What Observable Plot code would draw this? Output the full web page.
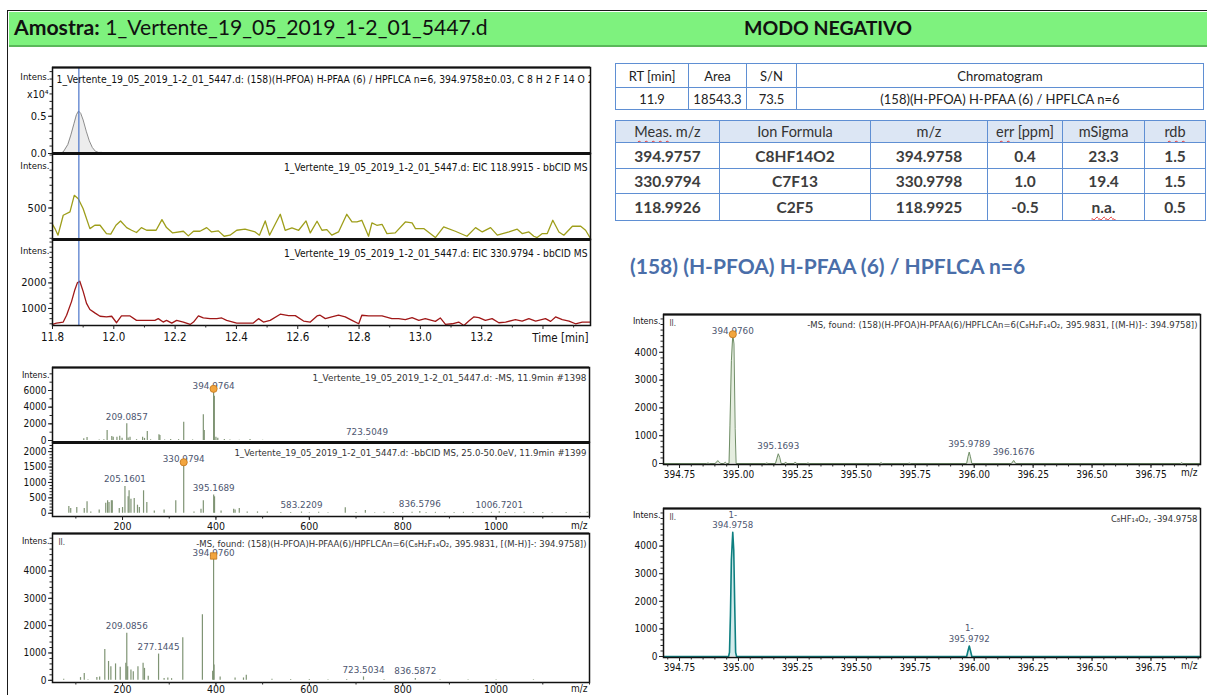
<!DOCTYPE html>
<html><head><meta charset="utf-8">
<script src="https://cdn.jsdelivr.net/npm/d3@7"></script>
<script src="https://cdn.jsdelivr.net/npm/@observablehq/plot@0.6"></script>
<style>
html,body{margin:0;padding:0;background:#fff;}
#page{position:relative;width:1207px;height:695px;overflow:hidden;background:#fff;font-family:Lato,'Open Sans',sans-serif;}
#border{position:absolute;left:7px;top:10px;width:1220px;height:720px;border-left:1.5px solid #1a1a1a;border-top:1.5px solid #1a1a1a;}
#header{position:absolute;left:8.5px;top:11.5px;width:1210px;height:33px;background:#7ef27e;border-bottom:2px solid #5ab85a;}
#amostra{position:absolute;left:14px;top:14px;font-size:21.2px;color:#111;white-space:nowrap;}
#modo{position:absolute;left:828px;top:16px;transform:translateX(-50%);font-weight:bold;font-size:19.5px;color:#111;white-space:nowrap;}
table{position:absolute;border-collapse:collapse;font-family:Lato,'Open Sans',sans-serif;table-layout:fixed;}
td{border:1.5px solid #5f8fd3;text-align:center;padding:0;white-space:nowrap;overflow:hidden;}
#t1 td{font-size:13px;color:#222;}
#t2 td{font-size:15.5px;font-weight:bold;color:#3d3d3d;}
#t2 tr.h td{font-size:14.5px;font-weight:normal;background:#dce6f4;color:#333;}
.wavy{text-decoration:underline wavy #e03030;text-decoration-thickness:1px;text-underline-offset:3px;}
#title{position:absolute;left:630px;top:253px;font-size:21px;font-weight:bold;color:#4a6ea9;white-space:nowrap;}
</style></head><body>
<div id="page">
<div id="border"></div>
<div id="header"></div>
<div id="amostra"><b>Amostra:</b> 1_Vertente_19_05_2019_1-2_01_5447.d</div>
<div id="modo">MODO NEGATIVO</div>
<div id="title">(158) (H-PFOA) H-PFAA (6) / HPFLCA n=6</div>
</div>
<script>
// ---------------- DATA ----------------
const sampleName = "1_Vertente_19_05_2019_1-2_01_5447.d";
const markerRT = 11.886;

// EIC 394.9758 (x10^4)
const eic394 = [[11.80,0],[11.82,0],[11.835,0.02],[11.85,0.12],[11.86,0.25],[11.87,0.40],[11.878,0.52],[11.885,0.57],[11.892,0.54],[11.90,0.45],[11.91,0.30],[11.92,0.17],[11.93,0.08],[11.94,0.03],[11.95,0.015],[11.96,0.015],[11.97,0.0],[13.555,0]];
// EIC 118.9915
const eic118 = [[11.800,285],[11.808,228],[11.818,141],[11.835,404],[11.857,448],[11.871,667],[11.884,623],[11.900,491],[11.922,228],[11.938,272],[11.955,272],[11.976,162],[11.990,154],[12.007,272],[12.022,329],[12.042,241],[12.058,206],[12.074,176],[12.090,241],[12.107,206],[12.138,206],[12.157,347],[12.172,241],[12.192,171],[12.227,193],[12.243,132],[12.260,193],[12.281,193],[12.303,241],[12.319,184],[12.341,198],[12.360,127],[12.379,141],[12.401,206],[12.428,220],[12.461,184],[12.475,141],[12.494,329],[12.508,141],[12.543,417],[12.559,206],[12.581,237],[12.603,206],[12.627,329],[12.641,171],[12.663,325],[12.679,206],[12.695,215],[12.711,141],[12.733,184],[12.760,417],[12.777,316],[12.793,316],[12.809,338],[12.831,127],[12.842,303],[12.858,272],[12.875,285],[12.891,162],[12.918,171],[12.951,316],[12.973,303],[12.984,228],[13.011,228],[13.049,110],[13.076,250],[13.114,193],[13.152,127],[13.180,241],[13.202,184],[13.229,241],[13.251,141],[13.289,184],[13.316,220],[13.332,162],[13.354,184],[13.370,127],[13.381,110],[13.398,162],[13.414,162],[13.432,338],[13.452,184],[13.468,141],[13.496,259],[13.523,259],[13.539,206],[13.555,97]];
// EIC 330.9794
const eic330 = [[11.800,375],[11.813,428],[11.835,468],[11.846,735],[11.862,1268],[11.873,1735],[11.881,2001],[11.889,2068],[11.900,1668],[11.911,1201],[11.922,961],[11.938,828],[11.955,695],[11.976,668],[11.993,695],[12.009,441],[12.025,708],[12.053,708],[12.074,535],[12.107,535],[12.134,535],[12.145,601],[12.161,468],[12.172,535],[12.189,428],[12.205,535],[12.227,468],[12.249,375],[12.260,468],[12.276,708],[12.292,628],[12.314,601],[12.336,601],[12.352,628],[12.368,535],[12.401,428],[12.434,428],[12.455,428],[12.472,601],[12.488,468],[12.510,535],[12.543,775],[12.570,721],[12.592,721],[12.619,508],[12.641,468],[12.663,708],[12.673,735],[12.690,601],[12.711,668],[12.733,735],[12.755,668],[12.777,535],[12.799,401],[12.809,735],[12.831,708],[12.875,708],[12.907,601],[12.929,601],[12.951,561],[12.973,641],[12.995,535],[13.016,601],[13.049,495],[13.065,628],[13.082,375],[13.104,401],[13.125,468],[13.142,335],[13.158,508],[13.174,668],[13.191,641],[13.212,535],[13.234,601],[13.256,441],[13.278,468],[13.310,561],[13.332,508],[13.354,601],[13.376,508],[13.408,601],[13.425,495],[13.441,668],[13.463,561],[13.485,508],[13.506,401],[13.528,468],[13.555,468]];
const timeTicks = [11.8,12.0,12.2,12.4,12.6,12.8,13.0,13.2];

// -MS spectrum, 11.9 min #1398
const msSticks = [[117,200],[124,360],[150,60],[160,80],[167,1200],[177,480],[180,400],[188,400],[194,520],[199,280],[209.0857,2000],[212,300],[216,400],[230,100],[243,400],[247,250],[253,1080],[260,80],[278,680],[280,600],[290,60],[303,120],[320,100],[331,2200],[350,60],[373,3080],[375,1200],[394.9764,6200],[396.6,5300],[400,400],[404,280],[418,120],[430,60],[450,40],[473,120],[500,30],[723.5049,100]];
const msLabels = [[394.9764,6200,"394.9764"],[209.0857,2000,"209.0857"],[723.5049,100,"723.5049"]];
// bbCID MS spectrum, 25.0-50.0 eV, #1399
const cidSticks = [[85,218],[89,153],[102,186],[118,153],[124,371],[132,44],[150,110],[164,328],[168,404],[171,350],[176,404],[178,404],[193,153],[200,186],[205.1601,872],[212,534],[214,730],[218,458],[225,480],[232,262],[236,186],[245,730],[252,350],[268,77],[289,110],[314,404],[330.9794,1656],[353,44],[368,132],[373,404],[395.1689,589],[397,534],[411,77],[438,132],[441,110],[450,153],[467,44],[489,44],[510,44],[539,22],[560,25],[583.2209,40],[600,20],[620,30],[640,20],[677,183],[700,25],[720,90],[740,20],[760,30],[780,25],[800,20],[820,30],[836.5796,60],[850,25],[870,30],[890,20],[910,25],[930,30],[950,25],[970,20],[990,30],[1006.7201,50],[1020,25],[1040,20],[1060,30],[1080,20],[1100,25],[1120,20],[1150,25],[1180,20],[1195,30]];
const cidLabels = [[330.9794,1656,"330.9794"],[205.1601,872,"205.1601"],[395.1689,589,"395.1689"],[583.2209,40,"583.2209"],[836.5796,60,"836.5796"],[1006.7201,50,"1006.7201"]];
// -MS found spectrum (bottom left)
const foundSticks = [[74,37],[110,100],[118,250],[126,25],[145,100],[151,125],[162,1125],[170,690],[175,500],[185,600],[195,475],[207,625],[209.0856,1725],[211,500],[218,375],[223,312],[233,500],[244,625],[247,437],[255,150],[277.1445,960],[289,62],[297,87],[305,60],[329,1560],[371,2400],[393,330],[394.976,4550],[396,560],[409,125],[441,87],[459,87],[465,187],[520,40],[560,30],[600,30],[640,25],[680,30],[716,125],[760,30],[827,62],[880,25],[940,20],[1000,20],[1080,20]];
const foundLabels = [[394.976,4550,"394.9760"],[209.0856,1725,"209.0856"],[277.1445,960,"277.1445"],[716,125,"723.5034"],[827,62,"836.5872"]];
const mzTicks = [200,400,600,800,1000];

// zoomed measured profile
const measProfile = [[394.684,0],[394.865,0],[394.871,15],[394.877,0],[394.902,0],[394.908,70],[394.913,100],[394.918,60],[394.924,0],[394.938,0],[394.944,45],[394.95,0],[394.960,0],[394.964,1380],[394.970,3700],[394.976,4650],[394.981,4300],[394.986,1250],[394.990,0],[395.115,0],[395.12,20],[395.125,0],[395.157,0],[395.163,180],[395.169,350],[395.175,220],[395.181,0],[395.196,0],[395.2,55],[395.205,0],[395.236,0],[395.241,55],[395.246,0],[395.29,0],[395.295,20],[395.3,0],[395.6,0],[395.605,30],[395.61,0],[395.72,0],[395.725,15],[395.73,0],[395.968,0],[395.974,250],[395.979,410],[395.984,240],[395.990,0],[396.158,0],[396.1676,110],[396.176,0],[396.875,0],[396.88,30],[396.885,0],[396.96,0]];
const measLabels = [[394.976,4650,"394.9760"],[395.169,350,"395.1693"],[395.979,410,"395.9789"],[396.1676,110,"396.1676"]];
// simulated isotope pattern C8HF14O2
const simProfile = [[394.684,0],[394.958,0],[394.962,150],[394.966,1500],[394.970,3500],[394.9758,4500],[394.980,3850],[394.984,1900],[394.988,150],[394.992,0],[395.968,0],[395.973,180],[395.9792,380],[395.985,180],[395.990,0],[396.96,0]];
const simLabels = [[394.9758,4500,"1-\n394.9758"],[395.9792,380,"1-\n395.9792"]];
const zoomTicks = [394.75,395.00,395.25,395.50,395.75,396.00,396.25,396.50,396.75];

// tables
const rtHeaders = ["RT [min]","Area","S/N","Chromatogram"];
const rtValues = ["11.9","18543.3","73.5","(158)(H-PFOA) H-PFAA (6) / HPFLCA n=6"];
const ionHeaders = ["Meas. m/z","Ion Formula","m/z","err [ppm]","mSigma","rdb"];
const measMz = ["394.9757","330.9794","118.9926"];
const ionFormula = ["C8HF14O2","C7F13","C2F5"];
const theoMz = ["394.9758","330.9798","118.9925"];
const errPpm = ["0.4","1.0","-0.5"];
const mSigma = ["23.3","19.4","n.a."];
const rdb = ["1.5","1.5","0.5"];

// ---------------- DRAWING ----------------
const NARROW = "'Liberation Sans Narrow','Arial Narrow','DejaVu Sans Condensed','Liberation Sans',sans-serif";
const SMALL = "'DejaVu Sans',Verdana,sans-serif";
const page = document.getElementById("page");
const xy = a => a.map(([x,y,t]) => ({x,y,t}));
function place(el, left, top){ el.style.position="absolute"; el.style.left=left+"px"; el.style.top=top+"px"; page.appendChild(el); }
function panel(f, xDomain, yDomain, marks){
  const p = Plot.plot({
    width: f.x1 - f.x0, height: f.y1 - f.y0, margin: 0,
    x: {domain: xDomain, axis: null}, y: {domain: yDomain, axis: null},
    style: {overflow:"visible", background:"transparent", fontFamily: NARROW, fontSize:"11px", color:"#111"},
    marks
  });
  place(p, f.x0, f.y0);
}
const str = d => String(d);
const yAxes = (major, minor, fmt, size=11) => [
  Plot.axisY(minor, {anchor:"left", label:null, tickSize:2.5, tickFormat:()=>"", stroke:"#222"}),
  Plot.axisY(major, {anchor:"left", label:null, tickSize:4, tickPadding:2, tickFormat: fmt || str, fontSize:size, stroke:"#222"})
];
const intens = (dy=7, fs=9.5) => Plot.text(["Intens."], {frameAnchor:"top-left", text:d=>d, textAnchor:"end", dx:-3, dy, fontSize:fs});
const frame = () => Plot.frame({stroke:"#111", strokeWidth:1.5});
const topThick = (yd, w=3) => Plot.ruleY([yd[1]], {stroke:"#111", strokeWidth:w});

// chromatograms
const cx = [11.8, 13.555];
const blue = "#4a74c9";
{
  const yd = [0, 1.155];
  panel({x0:52,x1:590,y0:67,y1:153}, cx, yd, [
    Plot.areaY(xy(eic394), {x:"x", y:"y", fill:"#ededed"}),
    Plot.lineY(xy(eic394), {x:"x", y:"y", stroke:"#8c8c8c", strokeWidth:1}),
    Plot.ruleX([markerRT], {stroke:blue, strokeWidth:1.2}),
    frame(), topThick(yd, 2),
    ...yAxes([0,0.5], d3.range(0,1.15,0.1), d3.format(".1f")),
    intens(6),
    Plot.text(["x10⁴"], {frameAnchor:"top-left", text:d=>d, textAnchor:"end", dx:-4, dy:23, fontSize:10.5}),
    Plot.text([sampleName + ": (158)(H-PFOA) H-PFAA (6) / HPFLCA n=6, 394.9758±0.03, C 8 H 2 F 14 O 2"], {frameAnchor:"top-left", text:d=>d, textAnchor:"start", dx:4, dy:8, fontSize:10.3, clip:true})
  ]);
}
{
  const yd = [84, 1220];
  panel({x0:52,x1:590,y0:153,y1:239}, cx, yd, [
    Plot.lineY(xy(eic118), {x:"x", y:"y", stroke:"#9e9e1a", strokeWidth:1.3}),
    Plot.ruleX([markerRT], {stroke:blue, strokeWidth:1.2}),
    frame(), topThick(yd),
    ...yAxes([500], d3.range(100,1201,100)),
    intens(9),
    Plot.text([sampleName + ": EIC 118.9915 - bbCID MS"], {frameAnchor:"top-right", text:d=>d, textAnchor:"end", dx:-3, dy:10, fontSize:10.2})
  ]);
}
{
  const yd = [333, 3700];
  panel({x0:52,x1:590,y0:239,y1:325}, cx, yd, [
    Plot.lineY(xy(eic330), {x:"x", y:"y", stroke:"#a01818", strokeWidth:1.3}),
    Plot.ruleX([markerRT], {stroke:blue, strokeWidth:1.2}),
    frame(), topThick(yd),
    ...yAxes([1000,2000], d3.range(400,3601,200)),
    intens(8),
    Plot.text([sampleName + ": EIC 330.9794 - bbCID MS"], {frameAnchor:"top-right", text:d=>d, textAnchor:"end", dx:-3, dy:10, fontSize:10.2}),
    Plot.axisX([...timeTicks, 13.4], {anchor:"bottom", label:null, tickSize:4, tickPadding:3, tickFormat:d=> d>13.3 ? "" : d3.format(".1f")(d), fontSize:11.5, stroke:"#222"}),
    Plot.axisX(d3.range(11.9,13.55,0.2), {anchor:"bottom", label:null, tickSize:2.5, tickFormat:()=>"", stroke:"#222"}),
    Plot.text(["Time [min]"], {frameAnchor:"bottom-right", text:d=>d, textAnchor:"end", dx:-2, dy:16, fontSize:11.5})
  ]);
}

// spectra helpers
const stickCol = "#7f9474";
const labelCol = "#4d5670";
const mzx = [50, 1200];
function sticks(data){ return Plot.ruleX(xy(data), {x:"x", y1:0, y2:"y", stroke:stickCol, strokeWidth:1.2}); }
function peakLabels(data, dy=-7, fs=8.8){ return Plot.text(xy(data), {x:"x", y:"y", text:"t", dy, fill:labelCol, fontFamily:SMALL, fontSize:fs}); }
function marker(data, symbol="circle"){ return Plot.dot(xy(data).slice(0,1), {x:"x", y:"y", r:3.6, symbol, fill:"#f2a53e", stroke:"#c0741a", strokeWidth:0.8}); }
function specHeader(txt, fs=8.8){ return Plot.text([txt], {frameAnchor:"top-right", text:d=>d, textAnchor:"end", dx:-3, dy:7, fontFamily:SMALL, fontSize:fs, fill:"#333"}); }
const mzAxis = (ts=4, tp=2) => [
  Plot.axisX(d3.range(100,1201,100), {anchor:"bottom", label:null, tickSize:2.5, tickFormat:()=>"", stroke:"#222"}),
  Plot.axisX(mzTicks, {anchor:"bottom", label:null, tickSize:ts, tickPadding:tp, tickFormat:str, fontSize:10.5, stroke:"#222"}),
  Plot.text(["m/z"], {frameAnchor:"bottom-right", text:d=>d, textAnchor:"end", dx:-2, dy:ts+tp+6, fontSize:10})
];
const iconII = () => Plot.text(["II."], {frameAnchor:"top-left", text:d=>d, dx:6, dy:6, fontSize:8, fill:"#444"});

{
  const yd = [-180, 8760];
  panel({x0:52,x1:589,y0:367,y1:441.5}, mzx, yd, [
    sticks(msSticks),
    peakLabels(msLabels.slice(1)),
    peakLabels(msLabels.slice(0,1), -3),
    marker(msLabels),
    frame(), topThick(yd, 2),
    ...yAxes([0,2000,4000,6000], d3.range(0,8001,1000), null, 10),
    intens(4, 9),
    specHeader(sampleName + ": -MS, 11.9min #1398", 8.9)
  ]);
}
{
  const yd = [-105, 2297];
  panel({x0:52,x1:589,y0:441.5,y1:515.5}, mzx, yd, [
    sticks(cidSticks),
    peakLabels(cidLabels.slice(1)),
    peakLabels(cidLabels.slice(0,1), -3),
    marker(cidLabels),
    frame(), topThick(yd),
    ...yAxes([0,500,1000,1500,2000], d3.range(0,2201,100), null, 10),
    specHeader(sampleName + ": -bbCID MS, 25.0-50.0eV, 11.9min #1399", 8.6),
    ...mzAxis()
  ]);
}
const foundTitle = "-MS, found: (158)(H-PFOA)H-PFAA(6)/HPFLCAn=6(C₈H₂F₁₄O₂, 395.9831, [(M-H)]-: 394.9758])";
{
  const yd = [-80, 5372];
  panel({x0:52,x1:589,y0:533,y1:682}, mzx, yd, [
    sticks(foundSticks),
    peakLabels(foundLabels.slice(1)),
    peakLabels(foundLabels.slice(0,1), -3),
    marker(foundLabels, "square"),
    frame(), topThick(yd, 2),
    ...yAxes([0,1000,2000,3000,4000], d3.range(0,5301,200), null, 10),
    intens(4, 9),
    iconII(),
    specHeader(foundTitle, 8.5),
    ...mzAxis(3, 0.5)
  ]);
}

// right zoomed spectra
const zx = [394.682, 396.96];
const zoomAxis = () => [
  Plot.axisX(d3.range(394.70,396.96,0.05), {anchor:"bottom", label:null, tickSize:2.5, tickFormat:()=>"", stroke:"#222"}),
  Plot.axisX(zoomTicks, {anchor:"bottom", label:null, tickSize:4, tickPadding:2, tickFormat:d3.format(".2f"), fontSize:10, stroke:"#222"}),
  Plot.text(["m/z"], {frameAnchor:"bottom-right", text:d=>d, textAnchor:"end", dx:-3, dy:11, fontSize:10})
];
{
  const yd = [-36, 5360];
  panel({x0:663,x1:1200,y0:314,y1:464}, zx, yd, [
    Plot.areaY(xy(measProfile), {x:"x", y:"y", fill:"#e5eddf"}),
    Plot.lineY(xy(measProfile), {x:"x", y:"y", stroke:"#6f8d66", strokeWidth:1}),
    peakLabels(measLabels.slice(1), -8),
    peakLabels(measLabels.slice(0,1), -3),
    marker(measLabels),
    frame(), topThick(yd, 2),
    ...yAxes([0,1000,2000,3000,4000], d3.range(0,5301,200), null, 10),
    intens(3, 9),
    iconII(),
    specHeader(foundTitle, 8.5),
    ...zoomAxis()
  ]);
}
{
  const yd = [-36, 5362];
  panel({x0:663,x1:1200,y0:508,y1:657}, zx, yd, [
    Plot.areaY(xy(simProfile), {x:"x", y:"y", fill:"#d3ebeb"}),
    Plot.lineY(xy(simProfile), {x:"x", y:"y", stroke:"#0e7f80", strokeWidth:1.6}),
    Plot.text(xy(simLabels), {x:"x", y:"y", text:"t", lineAnchor:"bottom", dy:-4, lineHeight:1.25, fill:labelCol, fontFamily:SMALL, fontSize:8.6}),
    frame(), topThick(yd, 2),
    ...yAxes([0,1000,2000,3000,4000], d3.range(0,5301,200), null, 10),
    intens(3, 9),
    iconII(),
    specHeader("C₈HF₁₄O₂, -394.9758", 8.5),
    ...zoomAxis()
  ]);
}

// tables
function makeTable(id, left, top, widths, rows, heights, headerClass){
  const t = document.createElement("table");
  t.id = id; t.style.left = left+"px"; t.style.top = top+"px";
  const cg = document.createElement("colgroup");
  widths.forEach(w => { const c = document.createElement("col"); c.style.width = w+"px"; cg.appendChild(c); });
  t.appendChild(cg);
  rows.forEach((r,i) => {
    const tr = document.createElement("tr");
    if (i===0 && headerClass) tr.className = headerClass;
    tr.style.height = heights[i]+"px";
    r.forEach(v => { const td = document.createElement("td"); td.innerHTML = v; tr.appendChild(td); });
    t.appendChild(tr);
  });
  page.appendChild(t);
}
const wavy = s => `<span class="wavy">${s}</span>`;
makeTable("t1", 615, 63, [73,58,50,407], [rtHeaders, rtValues], [24,22]);
const ionHead = ionHeaders.map(h => h==="Meas. m/z" ? wavy("Meas.")+" m/z" : h==="err [ppm]" ? wavy("err")+" [ppm]" : h==="rdb" ? wavy("rdb") : h);
const ionRows = measMz.map((m,i) => [m, ionFormula[i], theoMz[i], errPpm[i], mSigma[i]==="n.a." ? wavy("n.a.") : mSigma[i], rdb[i]]);
makeTable("t2", 615, 120, [104,151,117,75,82,61], [ionHead, ...ionRows], [22,26,25,27], "h");
</script>
</body></html>
